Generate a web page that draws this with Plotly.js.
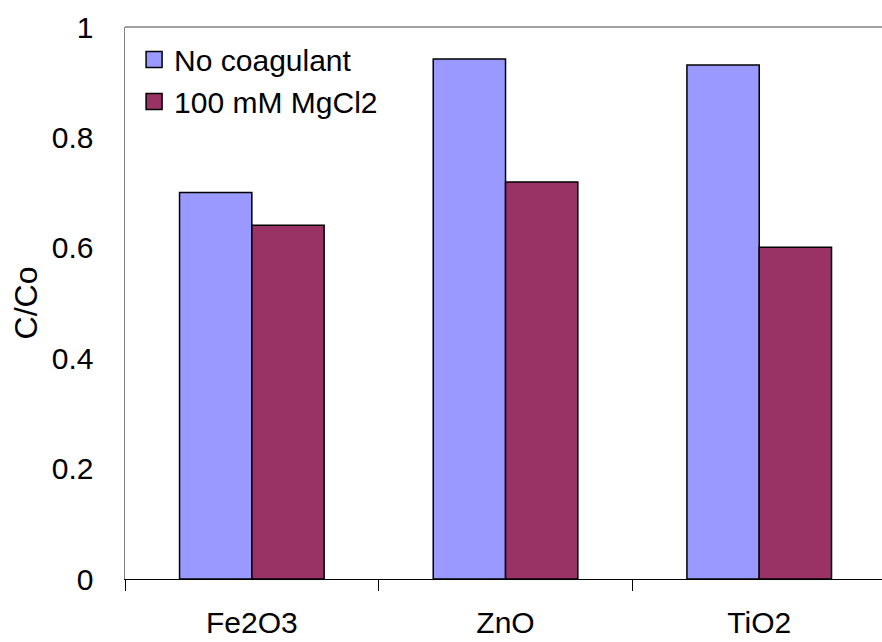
<!DOCTYPE html>
<html>
<head>
<meta charset="utf-8">
<script src="https://cdn.plot.ly/plotly-3.0.1.min.js"></script>
<style>html,body{margin:0;padding:0;background:#fff;overflow:hidden;}</style>
</head>
<body>
<div id="chart" style="width:882px;height:642px;"></div>
<script>
const categories = ["Fe2O3", "ZnO", "TiO2"];
const noCoagulant = [0.70, 0.942, 0.931];
const mgcl2 = [0.641, 0.719, 0.601];
const seriesNames = ["No coagulant", "100 mM MgCl2"];
const seriesColors = ["#9999FF", "#993366"];
const yTickVals = [0, 0.2, 0.4, 0.6, 0.8, 1];
const yTickText = ["0", "0.2", "0.4", "0.6", "0.8", "1"];

const font = {family: "Liberation Sans, Arial, sans-serif", size: 30, color: "#000"};

const traces = [
  {type: "bar", name: seriesNames[0], x: categories, y: noCoagulant, showlegend: false,
   marker: {color: seriesColors[0], line: {color: "#000", width: 1.5}}},
  {type: "bar", name: seriesNames[1], x: categories, y: mgcl2, showlegend: false,
   marker: {color: seriesColors[1], line: {color: "#000", width: 1.5}}},
  // legend entries (square swatches like the original)
  {type: "scatter", mode: "markers", name: seriesNames[0], x: [categories[0]], y: [null],
   marker: {symbol: "square", size: 16, color: seriesColors[0], line: {color: "#000", width: 1.5}}},
  {type: "scatter", mode: "markers", name: seriesNames[1], x: [categories[0]], y: [null],
   marker: {symbol: "square", size: 16, color: seriesColors[1], line: {color: "#000", width: 1.5}}}
];

const layout = {
  width: 882, height: 642,
  margin: {l: 124.5, r: 0, t: 27, b: 63},
  paper_bgcolor: "#fff", plot_bgcolor: "#fff",
  font: font,
  barmode: "group", bargap: 0.43, bargroupgap: 0,
  showlegend: true,
  legend: {x: 0.012, y: 0.988, xanchor: "left", yanchor: "top",
           font: font, bgcolor: "rgba(0,0,0,0)", borderwidth: 0, tracegroupgap: 0},
  xaxis: {type: "category", range: [-0.5, 2.484], showgrid: false, zeroline: false,
          showline: true, linecolor: "#000", linewidth: 1.2,
          ticks: "outside", tickson: "boundaries", ticklen: 11, tickcolor: "#000", tickwidth: 1,
          ticklabelstandoff: 17, tickfont: font, fixedrange: true},
  yaxis: {range: [0, 1], tickvals: yTickVals, ticktext: yTickText, showgrid: false, zeroline: false,
          showline: true, linecolor: "#808080", linewidth: 1.5, ticks: "",
          ticklabelstandoff: 24, tickfont: font,
          title: {text: "C/Co", font: {family: font.family, size: 32, color: "#000"}, standoff: 4},
          fixedrange: true},
  shapes: [
    {type: "line", xref: "paper", yref: "paper", x0: 0, x1: 1, y0: 1, y1: 1,
     line: {color: "#808080", width: 1.5}}
  ]
};

Plotly.newPlot("chart", traces, layout, {displayModeBar: false, staticPlot: true});
</script>
</body>
</html>
